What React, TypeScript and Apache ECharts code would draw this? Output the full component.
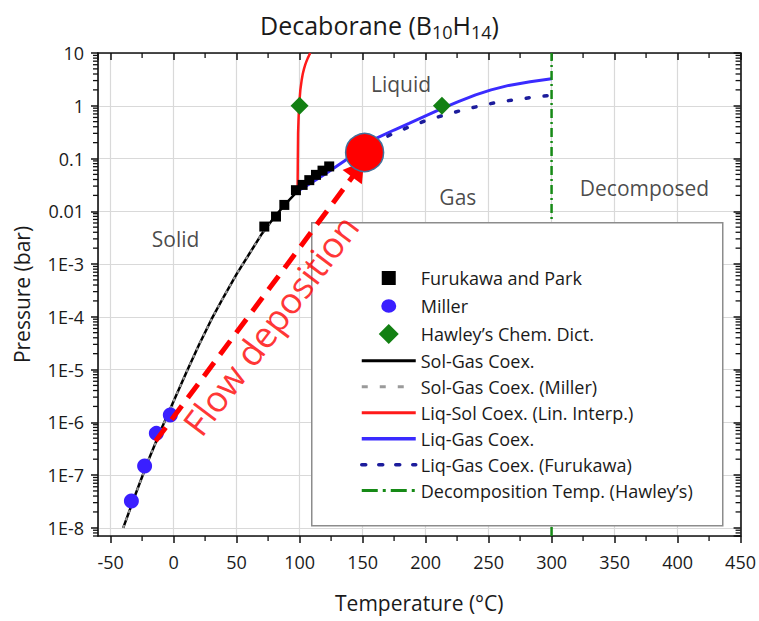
import { useEffect, useRef } from 'react';
import * as echarts from 'echarts';

const FONT = '"Open Sans", "Noto Sans", sans-serif';
const TEXT = '#1a1a1a';

// Solid–gas coexistence curve (°C, bar)
const SOL_GAS_T = [-40, -30, -20, -10, 0, 10, 20, 30, 40, 50, 60, 70, 80, 90, 98.4];
const SOL_GAS_P = [1.0e-8, 4.47e-8, 1.91e-7, 7.24e-7, 2.51e-6, 8.71e-6, 2.88e-5, 8.91e-5, 2.45e-4, 6.46e-4, 1.55e-3, 3.72e-3, 7.76e-3, 1.48e-2, 2.4e-2];

// Solid–gas coexistence after Miller
const SOL_GAS_MILLER_T = [-40, -30, -20, -10, 0, 10, 20, 30, 40, 50, 60, 70, 80];
const SOL_GAS_MILLER_P = [1.0e-8, 4.47e-8, 1.91e-7, 7.24e-7, 2.51e-6, 8.71e-6, 2.88e-5, 8.91e-5, 2.45e-4, 6.46e-4, 1.55e-3, 3.72e-3, 7.76e-3];

// Liquid–solid coexistence (linear interpolation)
const LIQ_SOL_T = [98.4, 98.6, 98.8, 99.1, 99.6, 100.6, 101.6, 102.5, 103.5, 104.5, 105.5, 106.5, 107.5, 108.5];
const LIQ_SOL_P = [0.024, 0.1, 0.3, 0.5, 1, 2, 3, 4, 5, 6, 7, 8, 9, 10];

// Liquid–gas coexistence
const LIQ_GAS_T = [98.4, 110, 120, 136.7, 150, 160.7, 175, 186.9, 200, 213.2, 226, 239.7, 252, 266, 283, 300];
const LIQ_GAS_P = [0.024, 0.0355, 0.0501, 0.0933, 0.148, 0.24, 0.347, 0.465, 0.646, 0.895, 1.2, 1.61, 2.0, 2.43, 2.85, 3.24];

// Liquid–gas coexistence after Furukawa
const LIQ_GAS_FURUKAWA_T = [145, 171.8, 186.3, 200.9, 215.4, 229.9, 244.4, 258.7, 273.2, 287.2, 300];
const LIQ_GAS_FURUKAWA_P = [0.126, 0.28, 0.392, 0.532, 0.671, 0.836, 1.01, 1.19, 1.32, 1.48, 1.58];

// Decomposition temperature (Hawley's)
const DECOMP_T = [300, 300];
const DECOMP_P = [7e-9, 10];

// Measured points
const FURUKAWA_PARK_T = [72.0, 81.3, 87.9, 97.1, 102.4, 107.7, 113.0, 118.2, 123.5];
const FURUKAWA_PARK_P = [5.13e-3, 7.94e-3, 1.32e-2, 2.51e-2, 3.16e-2, 3.89e-2, 4.9e-2, 5.89e-2, 7.08e-2];
const MILLER_T = [-33.5, -23.0, -13.7, -2.6];
const MILLER_P = [3.24e-8, 1.48e-7, 6.17e-7, 1.38e-6];
const HAWLEY_T = [100, 213];
const HAWLEY_P = [1, 1];

// Operating point and deposition path
const OPERATING_POINT = [151.6, 0.13];
const FLOW_FROM = [-14.3, 4.4e-7];
const FLOW_TO = [146.5, 0.0629];
const FLOW_LABEL_AT = [77.0, 7.0e-5];

// Phase region names and where they sit (°C, bar)
const REGION_NAMES = ['Solid', 'Liquid', 'Gas', 'Decomposed'];
const REGION_T = [1.6, 180.5, 225.6, 373.7];
const REGION_P = [3.04e-3, 2.57, 0.019, 0.0271];

// Axis settings
const T_MIN = -60;
const T_MAX = 450;
const T_MINOR_TICKS = [-25, 25, 75, 125, 175, 225, 275, 325, 375, 425];
const P_MIN = 7e-9;
const P_MAX = 10;
const P_TICK_LABELS = ['1E-8', '1E-7', '1E-6', '1E-5', '1E-4', '1E-3', '0.01', '0.1', '1', '10'];
const P_DECADES = [-9, -8, -7, -6, -5, -4, -3, -2, -1, 0];
const P_MINOR_MULTIPLES = [2, 3, 4, 5, 6, 7, 8, 9];

const zip = (t: number[], p: number[]) => t.map((x, i) => [x, p[i]]);

const AXIS_COLOR = '#111111';
const MINOR_LEN = 5;
const axisLine = { show: true, onZero: false, lineStyle: { color: AXIS_COLOR, width: 1.6 } };

// Minor ticks of the logarithmic pressure axis (2…9 within each decade)
const P_MINOR_TICKS = P_DECADES.flatMap((d) => P_MINOR_MULTIPLES.map((m) => m * Math.pow(10, d))).filter(
  (v) => v > P_MIN && v < P_MAX,
);

function buildOption(): echarts.EChartsOption {
  const xBase = {
    type: 'value' as const,
    min: T_MIN,
    max: T_MAX,
    splitNumber: 10,
    minInterval: 50,
    maxInterval: 50,
    axisLine,
    minorTick: { show: false },
  };
  const yBase = {
    type: 'log' as const,
    logBase: 10,
    min: P_MIN,
    max: P_MAX,
    splitNumber: 10,
    axisLine,
    minorTick: { show: false },
  };
  const tick = (inside: boolean) => ({
    axisTick: { show: true, inside, length: 7, lineStyle: { color: AXIS_COLOR, width: 1.5 } },
  });
  const tickStyle = { stroke: AXIS_COLOR, lineWidth: 1.3 };

  const lineSeries = (name: string, t: number[], p: number[], lineStyle: any) => ({
    name,
    type: 'line' as const,
    data: zip(t, p),
    symbol: 'none',
    showSymbol: false,
    lineStyle,
    z: 2,
    silent: true,
  });

  const legendLine = (name: string, lineStyle: any) => ({ name, itemStyle: { opacity: 0 }, lineStyle });

  return {
    animation: false,
    backgroundColor: '#ffffff',
    textStyle: { fontFamily: FONT },
    title: {
      text: '{a|Decaborane (B}{s|10}{a|H}{s|14}{a|)}',
      left: 'center',
      top: 4,
      textStyle: {
        rich: {
          a: { fontSize: 25, fontWeight: 'normal', color: TEXT, fontFamily: FONT },
          s: { fontSize: 18, fontWeight: 'normal', color: TEXT, fontFamily: FONT, padding: [14, 0, 0, 0] },
        },
      },
    },
    grid: { left: 98, right: 16, top: 53, bottom: 85 },
    xAxis: [
      {
        ...xBase,
        position: 'bottom',
        ...tick(false),
        splitLine: { show: true, lineStyle: { color: '#d9d9d9', width: 1.2 } },
        axisLabel: {
          fontSize: 18,
          color: TEXT,
          margin: 17,
          showMinLabel: false,
          formatter: (v: number) => (v % 50 === 0 ? String(v) : ''),
        },
        name: 'Temperature (°C)',
        nameLocation: 'middle',
        nameGap: 56,
        nameTextStyle: { fontSize: 21, color: TEXT },
      },
      {
        ...xBase,
        position: 'top',
        ...tick(true),
        splitLine: { show: false },
        axisLabel: { show: false },
      },
    ],
    yAxis: [
      {
        ...yBase,
        position: 'left',
        ...tick(false),
        splitLine: { show: true, lineStyle: { color: '#d9d9d9', width: 1.2 } },
        axisLabel: {
          fontSize: 18,
          color: TEXT,
          margin: 14,
          showMinLabel: false,
          formatter: (v: number) => {
            const l = Math.log10(v);
            const e = Math.round(l);
            if (Math.abs(l - e) > 1e-6) return '';
            return P_TICK_LABELS[e + 8] ?? '';
          },
        },
        name: 'Pressure (bar)',
        nameLocation: 'middle',
        nameGap: 66,
        nameTextStyle: { fontSize: 21, color: TEXT },
      },
      {
        ...yBase,
        position: 'right',
        ...tick(true),
        splitLine: { show: false },
        axisLabel: { show: false },
      },
    ],
    legend: {
      left: 355,
      top: 263,
      orient: 'vertical',
      itemWidth: 54,
      itemHeight: 20,
      itemGap: 7.95,
      selectedMode: false,
      z: 10,
      textStyle: { fontSize: 18, color: TEXT, fontFamily: FONT },
      data: [
        { name: 'Furukawa and Park', icon: 'path://M0,0M20,20M3,3L17,3L17,17L3,17Z' },
        { name: 'Miller', icon: 'path://M0,0M20,20M2.5,10A7.5,6.8 0 1 1 17.5,10A7.5,6.8 0 1 1 2.5,10Z' },
        { name: 'Hawley’s Chem. Dict.', icon: 'path://M0,0M20,20M10,0L20,10L10,20L0,10Z' },
        legendLine('Sol-Gas Coex.', { width: 3, color: '#000000' }),
        legendLine('Sol-Gas Coex. (Miller)', { type: [6, 12], width: 3, color: '#9a9a9a' }),
        legendLine('Liq-Sol Coex. (Lin. Interp.)', { width: 3, color: '#ff1a1a' }),
        legendLine('Liq-Gas Coex.', { width: 3.5, color: '#3a2bff' }),
        legendLine('Liq-Gas Coex. (Furukawa)', { type: [4, 13], width: 3.5, color: '#1c1c9c' }),
        legendLine('Decomposition Temp. (Hawley’s)', { type: [16, 5, 3, 5], width: 3, color: '#168a16' }),
      ],
    },
    graphic: [
      {
        type: 'rect',
        left: 311,
        top: 222,
        z: 3,
        silent: true,
        shape: { width: 411, height: 303 },
        style: { fill: '#ffffff', stroke: '#8c8c8c', lineWidth: 1.5 },
      },
    ],
    series: [
      {
        // minor ticks on the left (outward) and right (inward) pressure axes
        name: 'pressure minor ticks',
        type: 'custom',
        silent: true,
        clip: false,
        z: 7,
        data: P_MINOR_TICKS.map((p) => [T_MIN, p]),
        renderItem: (params: any, api: any) => {
          const p = api.value(1);
          const left = api.coord([T_MIN, p]);
          const right = api.coord([T_MAX, p]);
          return {
            type: 'group',
            children: [
              {
                type: 'line',
                shape: { x1: left[0] - MINOR_LEN, y1: left[1], x2: left[0], y2: left[1] },
                style: tickStyle,
              },
              {
                type: 'line',
                shape: { x1: right[0] - MINOR_LEN, y1: right[1], x2: right[0], y2: right[1] },
                style: tickStyle,
              },
            ],
          };
        },
      },
      {
        // minor ticks on the bottom (outward) and top (inward) temperature axes
        name: 'temperature minor ticks',
        type: 'custom',
        silent: true,
        clip: false,
        z: 7,
        data: T_MINOR_TICKS.map((t) => [t, P_MIN]),
        renderItem: (params: any, api: any) => {
          const t = api.value(0);
          const bottom = api.coord([t, P_MIN]);
          const top = api.coord([t, P_MAX]);
          return {
            type: 'group',
            children: [
              {
                type: 'line',
                shape: { x1: bottom[0], y1: bottom[1], x2: bottom[0], y2: bottom[1] + MINOR_LEN },
                style: tickStyle,
              },
              {
                type: 'line',
                shape: { x1: top[0], y1: top[1], x2: top[0], y2: top[1] + MINOR_LEN },
                style: tickStyle,
              },
            ],
          };
        },
      },
      {
        name: 'Miller',
        type: 'scatter',
        data: zip(MILLER_T, MILLER_P),
        symbol: 'circle',
        symbolSize: 15,
        itemStyle: { color: '#3a1fff', opacity: 1 },
        z: 2,
        silent: true,
      },
      {
        name: 'Furukawa and Park',
        type: 'scatter',
        data: zip(FURUKAWA_PARK_T, FURUKAWA_PARK_P),
        symbol: 'rect',
        symbolSize: 10,
        itemStyle: { color: '#000000', opacity: 1 },
        z: 2,
        silent: true,
      },
      lineSeries('Sol-Gas Coex.', SOL_GAS_T, SOL_GAS_P, { color: '#000000', width: 2.5 }),
      lineSeries('Sol-Gas Coex. (Miller)', SOL_GAS_MILLER_T, SOL_GAS_MILLER_P, {
        color: '#9a9a9a',
        width: 2,
        type: [3, 5],
      }),
      lineSeries('Liq-Sol Coex. (Lin. Interp.)', LIQ_SOL_T, LIQ_SOL_P, { color: '#ff1a1a', width: 2.5 }),
      lineSeries('Liq-Gas Coex.', LIQ_GAS_T, LIQ_GAS_P, { color: '#3a2bff', width: 3 }),
      lineSeries('Liq-Gas Coex. (Furukawa)', LIQ_GAS_FURUKAWA_T, LIQ_GAS_FURUKAWA_P, {
        color: '#1c1c9c',
        width: 3.5,
        type: [3, 15],
        cap: 'round',
      }),
      lineSeries('Decomposition Temp. (Hawley’s)', DECOMP_T, DECOMP_P, {
        color: '#168a16',
        width: 2.5,
        type: [9, 4, 2, 4],
      }),
      {
        name: 'Hawley’s Chem. Dict.',
        type: 'scatter',
        data: zip(HAWLEY_T, HAWLEY_P),
        symbol: 'diamond',
        symbolSize: 18,
        itemStyle: { color: '#138013', opacity: 1 },
        z: 2,
        silent: true,
      },
      {
        name: 'flow',
        type: 'line',
        data: [],
        z: 4,
        silent: true,
        markLine: {
          silent: true,
          symbol: ['none', 'triangle'],
          symbolSize: [24, 20],
          label: { show: false },
          lineStyle: { color: '#ff0000', width: 5, type: [17, 10] },
          emphasis: { disabled: true },
          data: [[{ coord: FLOW_FROM }, { coord: FLOW_TO }]] as any,
        },
      },
      {
        name: 'regions',
        type: 'scatter',
        data: REGION_NAMES.map((n, i) => ({ name: n, value: [REGION_T[i], REGION_P[i]] })),
        symbolSize: 1,
        itemStyle: { color: 'rgba(0,0,0,0)' },
        label: { show: true, position: 'inside', formatter: '{b}', fontSize: 21, color: TEXT, fontFamily: FONT },
        z: 4,
        silent: true,
      },
      {
        name: 'flowLabel',
        type: 'scatter',
        data: [{ name: 'Flow deposition', value: FLOW_LABEL_AT }],
        symbolSize: 1,
        itemStyle: { color: 'rgba(0,0,0,0)' },
        label: {
          show: true,
          position: 'inside',
          formatter: '{b}',
          rotate: 53,
          fontSize: 36,
          color: '#ff0000',
          fontFamily: FONT,
        },
        z: 5,
        silent: true,
      },
      {
        name: 'operating point',
        type: 'scatter',
        data: [OPERATING_POINT],
        symbol: 'circle',
        symbolSize: 38,
        itemStyle: { color: '#ff0000', opacity: 1, borderColor: '#41719c', borderWidth: 1.5 },
        z: 6,
        silent: true,
      },
    ],
  } as echarts.EChartsOption;
}

export default function App() {
  const ref = useRef<HTMLDivElement>(null);
  useEffect(() => {
    if (!ref.current) return;
    const chart = echarts.init(ref.current, undefined, { renderer: 'svg' });
    chart.setOption(buildOption());
    return () => chart.dispose();
  }, []);
  return (
    <div
      ref={ref}
      style={{ position: 'fixed', left: 0, top: 0, width: 759, height: 621, background: '#fff' }}
    />
  );
}
